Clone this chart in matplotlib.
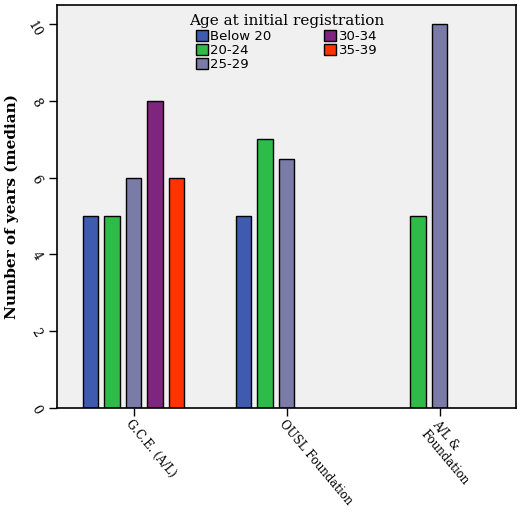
import matplotlib
matplotlib.use("Agg")
import matplotlib.pyplot as plt
from matplotlib.patches import Patch

categories = ["G.C.E. (A/L)", "OUSL Foundation", "A/L &\nFoundation"]
series = ["Below 20", "20-24", "25-29", "30-34", "35-39"]
colors = ["#3f5bb0", "#2fbb48", "#7b7ba8", "#7e2580", "#ff3300"]
values = {
    "Below 20": [5, 5, None],
    "20-24": [5, 7, 5],
    "25-29": [6, 6.5, 10],
    "30-34": [8, None, None],
    "35-39": [6, None, None],
}

fig = plt.figure(figsize=(5.2, 5.14), dpi=100)
ax = fig.add_axes([57/520, 1-408/514, (516-57)/520, (408-5)/514])
ax.set_facecolor("#f0f0f0")
slot = 0.14
w = 0.1
for i, s in enumerate(series):
    for g, v in enumerate(values[s]):
        if v is None:
            continue
        ax.bar(g + (i-2)*slot, v, width=w, color=colors[i], edgecolor="black", linewidth=1)
ax.set_xlim(-0.5, 2.5)
ax.set_ylim(0, 10.5)
ax.set_xticks(range(3))
ax.set_xticklabels(categories, rotation=-50, ha="left", va="top", rotation_mode="anchor",
                   family="DejaVu Serif", fontsize=8.5)
ax.tick_params(axis="x", pad=1)
ax.set_yticks([0, 2, 4, 6, 8, 10])
ax.set_yticklabels(["0", "2", "4", "6", "8", "10"], rotation=-60, family="DejaVu Serif", fontsize=9)
ax.tick_params(length=6, width=1)
ax.set_ylabel("Number of years (median)", family="DejaVu Serif", fontweight="bold", fontsize=11)
for sp in ax.spines.values():
    sp.set_linewidth(1.2)
handles = [Patch(facecolor=c, edgecolor="black", label=s) for s, c in zip(series, colors)]
leg = ax.legend(handles=handles, ncol=2, loc="upper center", bbox_to_anchor=(0.5, 1.0),
                title="Age at initial registration", frameon=False, fontsize=9.5,
                handlelength=0.9, handleheight=0.9, handletextpad=0.2, columnspacing=4,
                labelspacing=0.1, borderpad=0.2)
leg.get_title().set_family("DejaVu Serif")
leg.get_title().set_fontsize(11)
fig.savefig("out.png", dpi=100)
